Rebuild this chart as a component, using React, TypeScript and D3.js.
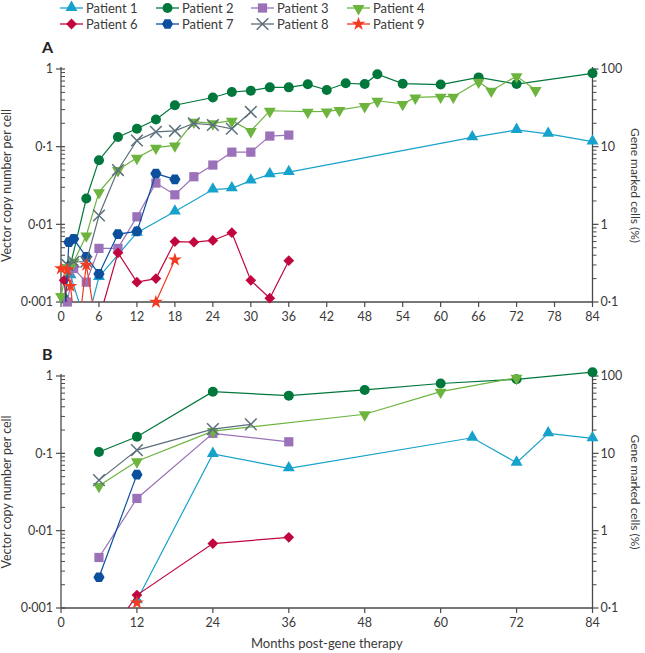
import React from 'react';
import * as d3 from 'd3';

type Pt = [number, number];

// legend / series info
const patientNames = ['Patient 1', 'Patient 2', 'Patient 3', 'Patient 4', 'Patient 6', 'Patient 7', 'Patient 8', 'Patient 9'];
const patientColors = ['#17a2cc', '#00773b', '#9b72b9', '#6db43f', '#c1063f', '#0c4f9d', '#5c6f7c', '#f23b22'];
const patientMarkers = ['triangle', 'circle', 'square', 'triangleDown', 'diamond', 'hexagon', 'times', 'star'];

// Panel A: vector copy number per cell (month, VCN)
const p1A: Pt[] = [[1.5, 0.0022], [4, 0.0005], [6, 0.0021], [12, 0.0078], [18, 0.0146], [24, 0.028], [27, 0.029], [30, 0.0365], [33, 0.044], [36, 0.047], [65, 0.132], [72, 0.164], [77, 0.146], [84, 0.116]];
const p2A: Pt[] = [[0.5, 0.0011], [1.5, 0.003], [4, 0.0215], [6, 0.067], [9, 0.133], [12, 0.17], [15, 0.224], [18, 0.342], [24, 0.43], [27, 0.506], [30, 0.526], [33, 0.58], [36, 0.58], [39, 0.635], [42, 0.537], [45, 0.655], [48, 0.64], [50, 0.855], [54, 0.647], [60, 0.63], [66, 0.78], [72, 0.64], [84, 0.88]];
const p3A: Pt[] = [[1, 0.001], [2, 0.0027], [4, 0.0018], [6, 0.0049], [9, 0.0049], [12, 0.0125], [15, 0.034], [18, 0.024], [21, 0.041], [24, 0.058], [27, 0.085], [30, 0.085], [33, 0.137], [36, 0.141]];
const p4A: Pt[] = [[0, 0.0012], [1, 0.0028], [2, 0.0033], [4, 0.0072], [6, 0.026], [9, 0.05], [12, 0.072], [15, 0.097], [18, 0.104], [21, 0.21], [24, 0.2], [27, 0.216], [30, 0.159], [33, 0.29], [39, 0.282], [42, 0.285], [44, 0.297], [48, 0.334], [50, 0.39], [54, 0.355], [56, 0.43], [60, 0.44], [62, 0.44], [66, 0.687], [68, 0.526], [72, 0.81], [75, 0.537]];
const p6A: Pt[] = [[0.5, 0.0019], [1, 0.0007], [6, 0.0006], [9, 0.0043], [12, 0.0018], [15, 0.002], [18, 0.006], [21, 0.0059], [24, 0.0062], [27, 0.0078], [30, 0.0019], [33, 0.00112], [36, 0.0034]];
const p7A: Pt[] = [[0.5, 0.0005], [1.25, 0.0059], [2, 0.0065], [4, 0.0038], [6, 0.0023], [9, 0.0075], [12, 0.0081], [15, 0.045], [18, 0.038]];
const p8A: Pt[] = [[1, 0.003], [2, 0.0033], [4, 0.0033], [6, 0.013], [9, 0.05], [12, 0.12], [15, 0.155], [18, 0.16], [21, 0.2], [24, 0.19], [27, 0.17], [30, 0.28]];
const p9A: Pt[] = [[0, 0.0027], [1, 0.0026], [1.5, 0.0016], [2.5, 0.0003], [4, 0.003], [6, 0.0003], [15, 0.001], [18, 0.0035]];

// Panel B
const p1B: Pt[] = [[12, 0.00126], [24, 0.098], [36, 0.064], [65, 0.159], [72, 0.0757], [77, 0.181], [84, 0.156]];
const p2B: Pt[] = [[6, 0.104], [12, 0.164], [24, 0.627], [36, 0.557], [48, 0.66], [60, 0.8], [72, 0.906], [84, 1.12]];
const p3B: Pt[] = [[6, 0.0045], [12, 0.0261], [24, 0.181], [36, 0.141]];
const p4B: Pt[] = [[6, 0.038], [12, 0.079], [24, 0.194], [48, 0.32], [60, 0.627], [72, 0.95]];
const p6B: Pt[] = [[6, 0.00028], [12, 0.00147], [24, 0.0068], [36, 0.0082]];
const p7B: Pt[] = [[6, 0.0025], [12, 0.053]];
const p8B: Pt[] = [[6, 0.045], [12, 0.11], [24, 0.206], [30, 0.237]];
const p9B: Pt[] = [[12, 0.00117]];

const seriesA = [p1A, p2A, p3A, p4A, p6A, p7A, p8A, p9A];
const seriesB = [p1B, p2B, p3B, p4B, p6B, p7B, p8B, p9B];

const yTickValues = [0.001, 0.01, 0.1, 1];
const yTickLabels = ['0·001', '0·01', '0·1', '1'];
const rightTickLabels = ['0·1', '1', '10', '100'];
const xTicksA = d3.range(0, 85, 6);
const xTicksB = d3.range(0, 85, 12);

const W = 645;
const H = 653;
const FONT = 'Lato, "Open Sans", sans-serif';
const AXIS = '#4a4a4a';
const TEXT = '#3a3a3a';

const x = d3.scaleLinear().domain([0, 84]).range([61, 592.5]);

const hexPath = (r: number) => {
  const pts = d3.range(6).map(i => {
    const a = (Math.PI / 3) * i;
    return [r * Math.cos(a), r * Math.sin(a)] as [number, number];
  });
  return 'M' + pts.map(p => p.join(',')).join('L') + 'Z';
};

const Marker: React.FC<{ kind: string; color: string; cx: number; cy: number }> = ({ kind, color, cx, cy }) => {
  const t = `translate(${cx},${cy})`;
  if (kind === 'circle') return <circle cx={cx} cy={cy} r={5} fill={color} />;
  if (kind === 'hexagon') return <path d={hexPath(5.6)} transform={t} fill={color} />;
  if (kind === 'times') {
    const d = d3.symbol().type(d3.symbolTimes).size(90)() as string;
    return <path d={d} transform={t} fill="none" stroke={color} strokeWidth={1.5} />;
  }
  if (kind === 'triangle') {
    const d = d3.symbol().type(d3.symbolTriangle).size(62)() as string;
    return <path d={d} transform={`translate(${cx},${cy - 0.5})`} fill={color} />;
  }
  if (kind === 'triangleDown') {
    const d = d3.symbol().type(d3.symbolTriangle).size(62)() as string;
    return <path d={d} transform={`translate(${cx},${cy + 0.5}) rotate(180)`} fill={color} />;
  }
  if (kind === 'square') {
    const d = d3.symbol().type(d3.symbolSquare).size(85)() as string;
    return <path d={d} transform={t} fill={color} />;
  }
  if (kind === 'diamond') {
    const d = d3.symbol().type(d3.symbolSquare).size(58)() as string;
    return <path d={d} transform={`${t} rotate(45)`} fill={color} />;
  }
  const d = d3.symbol().type(d3.symbolStar).size(60)() as string;
  return <path d={d} transform={t} fill={color} />;
};

const Panel: React.FC<{ id: string; label: string; top: number; bottom: number; series: Pt[][]; xTicks: number[] }> = ({ id, label, top, bottom, series, xTicks }) => {
  const y = d3.scaleLog().domain([0.001, 1]).range([bottom, top]);
  const line = d3.line<Pt>().x(d => x(d[0])).y(d => y(d[1]));
  const minor: number[] = [];
  [0.001, 0.01, 0.1].forEach(base => d3.range(2, 10).forEach(k => minor.push(base * k)));
  const x0 = x.range()[0];
  const x1 = x.range()[1];
  const mid = (top + bottom) / 2;
  return (
    <g>
      <defs>
        <clipPath id={`clip-${id}`}>
          <rect x={x0} y={top - 30} width={x1 - x0} height={bottom - top + 30} />
        </clipPath>
      </defs>
      <text x={42} y={top - 16} fontSize={16} fontWeight="bold" fill="#222" fontFamily={FONT}>{label}</text>
      {/* axes */}
      <line x1={x0} x2={x0} y1={top - 2} y2={bottom} stroke={AXIS} strokeWidth={1.3} />
      <line x1={x1} x2={x1} y1={top - 2} y2={bottom} stroke={AXIS} strokeWidth={1.3} />
      <line x1={x0} x2={x1} y1={bottom} y2={bottom} stroke={AXIS} strokeWidth={1.3} />
      {minor.map((v, i) => (
        <g key={i}>
          <line x1={x0} x2={x0 + 4} y1={y(v)} y2={y(v)} stroke={AXIS} strokeWidth={1} />
          <line x1={x1} x2={x1 + 4} y1={y(v)} y2={y(v)} stroke={AXIS} strokeWidth={1} />
        </g>
      ))}
      {yTickValues.map((v, i) => (
        <g key={v}>
          <line x1={x0 - 5} x2={x0 + 4} y1={y(v)} y2={y(v)} stroke={AXIS} strokeWidth={1.2} />
          <line x1={x1} x2={x1 + 6} y1={y(v)} y2={y(v)} stroke={AXIS} strokeWidth={1.2} />
          <text x={x0 - 8} y={y(v)} dy="0.35em" textAnchor="end" fontSize={12.5} fill={TEXT} fontFamily={FONT}>{yTickLabels[i]}</text>
          <text x={x1 + 8} y={y(v)} dy="0.35em" textAnchor="start" fontSize={12.5} fill={TEXT} fontFamily={FONT}>{rightTickLabels[i]}</text>
        </g>
      ))}
      {xTicks.map(t => (
        <g key={t}>
          <line x1={x(t)} x2={x(t)} y1={bottom} y2={bottom + 5} stroke={AXIS} strokeWidth={1.2} />
          <text x={x(t)} y={bottom + 19} textAnchor="middle" fontSize={12.5} fill={TEXT} fontFamily={FONT}>{t}</text>
        </g>
      ))}
      <text transform={`translate(11,${mid}) rotate(-90)`} textAnchor="middle" fontSize={12.5} fill={TEXT} fontFamily={FONT}>Vector copy number per cell</text>
      <text transform={`translate(631,${mid}) rotate(90)`} textAnchor="middle" fontSize={12} fill={TEXT} fontFamily={FONT}>Gene marked cells (%)</text>
      {/* series */}
      {series.map((pts, si) => (
        <g key={si}>
          <path d={line(pts) as string} fill="none" stroke={patientColors[si]} strokeWidth={1.2} clipPath={`url(#clip-${id})`} />
          {pts.filter(p => p[1] >= 0.001).map((p, j) => (
            <Marker key={j} kind={patientMarkers[si]} color={patientColors[si]} cx={x(p[0])} cy={y(p[1])} />
          ))}
        </g>
      ))}
    </g>
  );
};

const legendCols = [60, 156, 251, 347];
const legendRows = [8, 24];

const Legend: React.FC = () => (
  <g>
    {patientNames.map((name, i) => {
      const lx = legendCols[i % 4];
      const ly = legendRows[Math.floor(i / 4)];
      return (
        <g key={name}>
          <line x1={lx} x2={lx + 23} y1={ly} y2={ly} stroke={patientColors[i]} strokeWidth={1.3} />
          <Marker kind={patientMarkers[i]} color={patientColors[i]} cx={lx + 11.5} cy={ly} />
          <text x={lx + 26} y={ly} dy="0.36em" fontSize={13} fill={TEXT} fontFamily={FONT}>{name}</text>
        </g>
      );
    })}
  </g>
);

export default function App() {
  return (
    <div style={{ position: 'absolute', left: 0, top: 0, width: W, height: H, background: '#fff' }}>
      <svg width={W} height={H} style={{ display: 'block' }}>
        <rect width={W} height={H} fill="#fff" />
        <Legend />
        <Panel id="a" label="A" top={69} bottom={302} series={seriesA} xTicks={xTicksA} />
        <Panel id="b" label="B" top={376} bottom={608} series={seriesB} xTicks={xTicksB} />
        <text x={(x.range()[0] + x.range()[1]) / 2} y={648} textAnchor="middle" fontSize={13} fill={TEXT} fontFamily={FONT}>Months post-gene therapy</text>
      </svg>
    </div>
  );
}
